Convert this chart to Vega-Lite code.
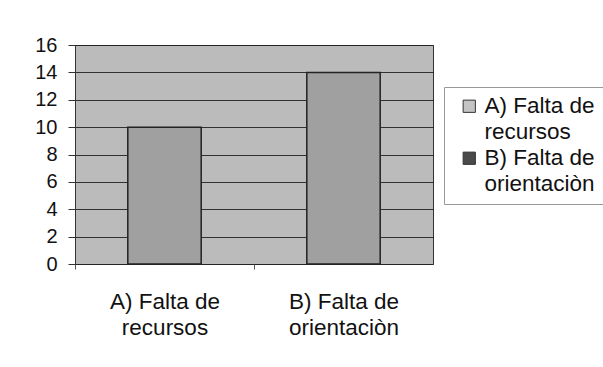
{
  "$schema": "https://vega.github.io/schema/vega-lite/v6.json",
  "width": 358,
  "height": 219,
  "autosize": {"type": "none"},
  "padding": {"left": 75, "top": 45, "right": 170, "bottom": 103},
  "background": "white",
  "config": {
    "font": "Liberation Sans",
    "view": {"fill": "#bbbbbb", "stroke": "#333333", "strokeWidth": 1}
  },
  "data": {
    "values": [
      {"cat": "A) Falta de recursos", "value": 10},
      {"cat": "B) Falta de orientaciòn", "value": 14}
    ]
  },
  "encoding": {
    "x": {
      "field": "cat",
      "type": "nominal",
      "scale": {"paddingInner": 0.59, "paddingOuter": 0.295},
      "axis": {
        "title": null,
        "labelAngle": 0,
        "labelFontSize": 22.5,
        "labelColor": "#111111",
        "labelPadding": 21,
        "labelLineHeight": 26,
        "tickOffset": -89.5,
        "labelOffset": 89.5,
        "tickSize": 5,
        "tickColor": "#555555",
        "domain": false,
        "grid": false,
        "labelExpr": "datum.value == 'A) Falta de recursos' ? ['A) Falta de', 'recursos'] : datum.value == 'B) Falta de orientaciòn' ? ['B) Falta de', 'orientaciòn'] : ''"
      }
    },
    "y": {
      "field": "value",
      "type": "quantitative",
      "scale": {"domain": [0, 16]},
      "axis": {
        "title": null,
        "values": [0, 2, 4, 6, 8, 10, 12, 14, 16],
        "labelFontSize": 20,
        "labelColor": "#111111",
        "labelPadding": 11,
        "tickSize": 7,
        "tickColor": "#333333",
        "domainColor": "#333333",
        "gridColor": "#222222",
        "gridWidth": 1,
        "gridOpacity": 0.9
      }
    }
  },
  "layer": [
    {
      "mark": {"type": "bar", "stroke": "#222222", "strokeWidth": 1.5, "fill": "#a0a0a0"}
    },
    {
      "mark": {"type": "bar", "opacity": 0},
      "encoding": {
        "color": {
          "field": "cat",
          "type": "nominal",
          "scale": {"range": ["#c4c4c4", "#4a4a4a"]},
          "legend": {
            "title": null,
            "orient": "none",
            "legendX": 369,
            "legendY": 42,
            "symbolType": "square",
            "symbolSize": 150,
            "symbolOffset": 6,
            "symbolOpacity": 1,
            "symbolStrokeColor": "#333333",
            "symbolStrokeWidth": 1,
            "labelFontSize": 22.5,
            "labelColor": "#111111",
            "labelLimit": 200,
            "labelOffset": 4,
            "rowPadding": 3,
            "padding": 8,
            "strokeColor": "#999999",
            "fillColor": "white",
            "labelExpr": "datum.value == 'A) Falta de recursos' ? ['A) Falta de', 'recursos'] : ['B) Falta de', 'orientaciòn']",
            "encode": {
              "labels": {"update": {"lineHeight": {"value": 26}}}
            }
          }
        }
      }
    }
  ]
}
